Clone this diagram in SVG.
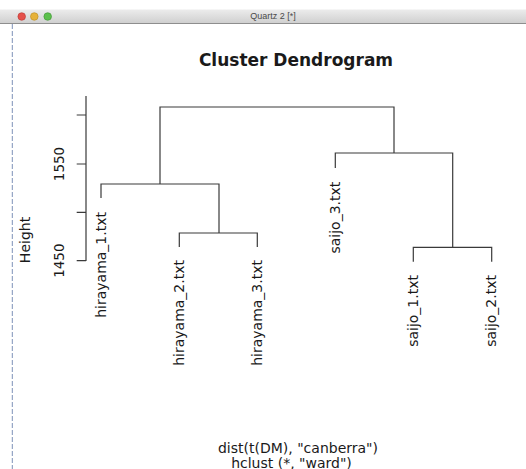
<svg xmlns="http://www.w3.org/2000/svg" width="526" height="469" viewBox="0 0 526 469">
  <defs>
    <linearGradient id="barGrad" x1="0" y1="0" x2="0" y2="1">
      <stop offset="0" stop-color="#ececec"/>
      <stop offset="1" stop-color="#cfcfcf"/>
    </linearGradient>
    <style>
      .txt { font-family: "DejaVu Sans", "Liberation Sans", sans-serif; fill: #1a1a1a; }
      .lbl { font-size: 14px; text-anchor: end; }
      .ax { font-size: 13.5px; text-anchor: middle; }
      .line { fill: none; stroke: #3a3a3a; stroke-width: 1.2; }
      .tick { fill: none; stroke: #3a3a3a; stroke-width: 1.2; }
      .sub { font-size: 14px; text-anchor: middle; }
    </style>
  </defs>
  <rect x="0" y="0" width="526" height="469" fill="#ffffff"/>

  <!-- window chrome -->
  <g id="title-bar">
    <rect x="0" y="9.5" width="526" height="14" fill="url(#barGrad)"/>
    <line x1="0" y1="23.5" x2="526" y2="23.5" stroke="#8e8e8e" stroke-width="1"/>
    <circle cx="21.7" cy="16.5" r="3.8" fill="#e5504a" stroke="#b8342f" stroke-width="0.6"/>
    <circle cx="34.3" cy="16.5" r="3.8" fill="#e6b23a" stroke="#b98a1e" stroke-width="0.6"/>
    <circle cx="47.7" cy="16.5" r="3.8" fill="#5cc04c" stroke="#3a9131" stroke-width="0.6"/>
    <text x="273" y="19.3" font-family="Liberation Sans, Arial, sans-serif" font-size="9" fill="#4a4a4a" text-anchor="middle">Quartz 2 [*]</text>
  </g>
  <line x1="12.3" y1="24" x2="12.3" y2="469" stroke="#7d91b8" stroke-width="1" stroke-dasharray="5 2"/>

  <!-- title -->
  <text class="txt" x="296" y="66" font-size="17" font-weight="bold" text-anchor="middle">Cluster Dendrogram</text>

  <!-- axis -->
  <g id="axis">
    <path class="tick" d="M86,96 V261 M76.7,115 H86 M76.7,164 H86 M76.7,212.3 H86 M76.7,260.7 H86"/>
    <text class="txt ax" transform="translate(63.5,164) rotate(-90)">1550</text>
    <text class="txt ax" transform="translate(63.5,260.7) rotate(-90)">1450</text>
    <text class="txt" font-size="14" text-anchor="middle" transform="translate(30,240) rotate(-90)">Height</text>
  </g>

  <!-- connectors -->
  <g id="connectors">
    <path class="line" d="M160,184 V107 H394 V153"/>
    <path class="line" d="M101,198 V184 H219 V233"/>
    <path class="line" d="M179.3,247 V233 H257.3 V247"/>
    <path class="line" d="M335.3,168 V153 H452.7 V247.3"/>
    <path class="line" d="M413.3,261.7 V247.3 H491.7 V261.7"/>
  </g>

  <!-- leaves -->
  <g id="hirayama_1">
    <text class="txt lbl" transform="translate(105.5,212) rotate(-90)">hirayama_1.txt</text>
  </g>
  <g id="hirayama_2">
    <text class="txt lbl" transform="translate(183.8,260) rotate(-90)">hirayama_2.txt</text>
  </g>
  <g id="hirayama_3">
    <text class="txt lbl" transform="translate(261.8,260) rotate(-90)">hirayama_3.txt</text>
  </g>
  <g id="saijo_3">
    <text class="txt lbl" transform="translate(339.8,181.7) rotate(-90)">saijo_3.txt</text>
  </g>
  <g id="saijo_1">
    <text class="txt lbl" transform="translate(417.8,275) rotate(-90)">saijo_1.txt</text>
  </g>
  <g id="saijo_2">
    <text class="txt lbl" transform="translate(496.2,275) rotate(-90)">saijo_2.txt</text>
  </g>

  <!-- subtitle -->
  <text class="txt sub" x="298" y="452.8">dist(t(DM), "canberra")</text>
  <text class="txt sub" x="291.5" y="467.5">hclust (*, "ward")</text>
</svg>
